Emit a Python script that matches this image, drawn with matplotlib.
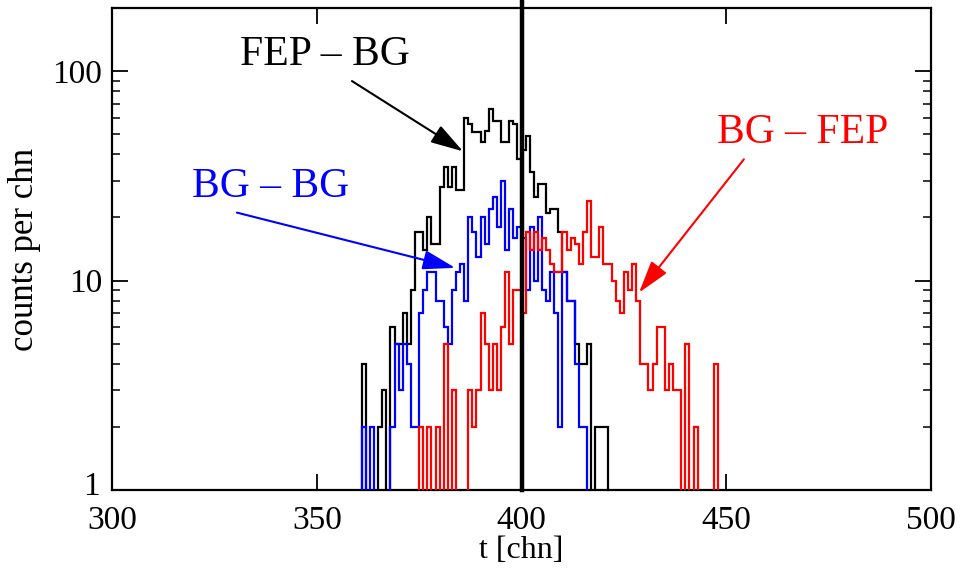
import numpy as np
import matplotlib
matplotlib.use("Agg")
import matplotlib.pyplot as plt
from matplotlib.ticker import LogLocator, NullFormatter, NullLocator
from matplotlib.transforms import ScaledTranslation

plt.rcParams['font.family'] = ['Liberation Serif', 'DejaVu Serif']

# counts per channel, channel numbers are the bin left edges
fep_bg_start = 361
fep_bg_counts = [4, 0, 0, 0, 2, 3, 0, 6, 5, 5,
                 7, 5, 9, 17, 17, 14, 20, 15, 15, 28,
                 35, 28, 35, 27, 27, 60, 56, 51, 51, 46,
                 52, 66, 58, 58, 46, 46, 58, 56, 38, 42,
                 49, 33, 25, 29, 29, 21, 22, 22, 17, 11,
                 8, 8, 5, 4, 4, 5, 0, 2, 2, 2]

bg_bg_start = 361
bg_bg_counts = [2, 0, 2, 0, 0, 0, 0, 2, 5, 3,
                5, 4, 2, 2, 7, 9, 11, 11, 8, 8,
                6, 5, 9, 11, 12, 8, 20, 17, 13, 20,
                15, 22, 25, 18, 30, 14, 22, 16, 18, 16,
                9, 18, 10, 20, 9, 8, 11, 7, 2, 11,
                8, 8, 4, 2, 2]

bg_fep_start = 375
bg_fep_counts = [2, 0, 2, 0, 2, 0, 5, 0, 3, 0,
                 0, 0, 3, 2, 3, 7, 5, 3, 5, 3,
                 6, 11, 5, 9, 9, 7, 17, 14, 17, 14,
                 16, 14, 12, 11, 11, 17, 14, 16, 15, 12,
                 17, 24, 13, 13, 18, 12, 12, 10, 8, 7,
                 11, 9, 12, 8, 4, 4, 3, 4, 6, 6,
                 3, 4, 3, 3, 0, 5, 0, 2, 0, 0,
                 0, 0, 4]

x_ticks = [300, 350, 400, 450, 500]
y_ticks = [1, 10, 100]
marker_channel = 400

fig = plt.figure(figsize=(9.63, 5.68), dpi=100)
ax = fig.add_axes([0.1163, 0.1373, 0.8505, 0.8486])
ax.set_yscale('log', nonpositive='clip')
ax.set_xlim(300, 500)
ax.set_ylim(1, 200)

FLOOR = 1e-3  # empty channels drop below the axis floor


def draw_hist(start, counts, color, lw, z):
    counts = np.asarray(counts, dtype=float)
    edges = start + np.arange(len(counts) + 1)
    vals = np.where(counts > 0, counts, FLOOR)
    xs = np.concatenate([[edges[0]], np.repeat(edges, 2)[1:-1], [edges[-1]]])
    ys = np.concatenate([[FLOOR], np.repeat(vals, 2), [FLOOR]])
    ax.plot(xs, ys, color=color, lw=lw, zorder=z, solid_joinstyle='miter')


draw_hist(fep_bg_start, fep_bg_counts, 'black', 1.6, 3)
draw_hist(bg_bg_start, bg_bg_counts, '#0000ff', 1.6, 4)
draw_hist(bg_fep_start, bg_fep_counts, '#ff0000', 1.6, 5)

ax.axvline(marker_channel, ymin=0, ymax=1.05, color='black', lw=3.2,
           zorder=6, clip_on=False)

# labels and arrows
arrow_style = '-|>,head_length=2.0,head_width=0.6'
ax.text(352.0, 119, 'FEP – BG', color='black', fontsize=30,
        ha='center', va='center')
ax.annotate('', xy=(385.7, 41.4), xytext=(358.6, 89.6),
            arrowprops=dict(arrowstyle=arrow_style, color='black', lw=1.5,
                            shrinkA=0, shrinkB=0), zorder=7)
ax.text(338.6, 27.9, 'BG – BG', color='#0000ff', fontsize=30,
        ha='center', va='center')
ax.annotate('', xy=(383.8, 11.5), xytext=(330.5, 21.1),
            arrowprops=dict(arrowstyle=arrow_style, color='#0000ff', lw=1.5,
                            shrinkA=0, shrinkB=0), zorder=7)
ax.text(468.7, 50.5, 'BG – FEP', color='#ff0000', fontsize=30,
        ha='center', va='center')
ax.annotate('', xy=(428.7, 8.76), xytext=(454.3, 37.9),
            arrowprops=dict(arrowstyle=arrow_style, color='#ff0000', lw=1.5,
                            shrinkA=0, shrinkB=0), zorder=7)

ax.set_xticks(x_ticks)
ax.set_xticklabels([str(v) for v in x_ticks])
ax.set_yticks(y_ticks)
ax.set_yticklabels([str(v) for v in y_ticks])
ax.yaxis.set_minor_locator(LogLocator(base=10, subs=np.arange(2, 10)))
ax.yaxis.set_minor_formatter(NullFormatter())
ax.xaxis.set_minor_locator(NullLocator())
ax.tick_params(axis='both', which='major', direction='in', length=11.5,
               width=1.3, labelsize=24, top=True, right=True)
ax.tick_params(axis='x', which='major', pad=11)
ax.tick_params(axis='y', which='major', pad=7)
ax.tick_params(axis='y', which='minor', direction='in', length=6,
               width=1.1, right=True, left=True)
for s in ax.spines.values():
    s.set_linewidth(1.6)

# lift the lowest y label a little so it clears the first x label
fig.canvas.draw()
low_label = ax.get_yticklabels()[0]
low_label.set_transform(low_label.get_transform()
                        + ScaledTranslation(-2 / 72, 5 / 72, fig.dpi_scale_trans))

ax.set_xlabel('t [chn]', fontsize=23, labelpad=0)
ax.set_ylabel('counts per chn', fontsize=25, labelpad=8)

fig.savefig('out.png', dpi=100)
